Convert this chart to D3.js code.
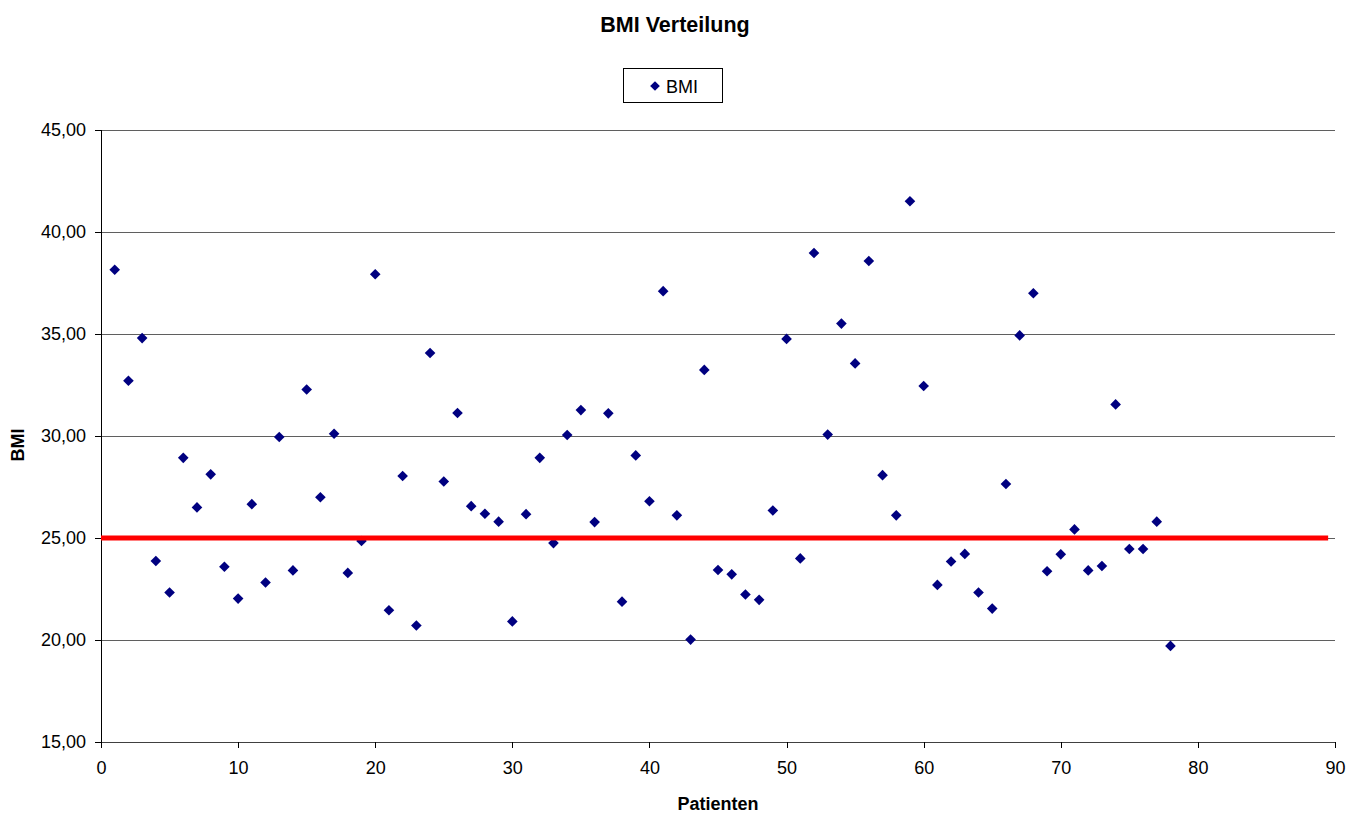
<!DOCTYPE html>
<html>
<head>
<meta charset="utf-8">
<script src="https://cdn.jsdelivr.net/npm/d3@7"></script>
<style>
  html, body { margin: 0; padding: 0; background: #fff; }
  svg { display: block; font-family: "Liberation Sans", Arial, sans-serif; }
</style>
</head>
<body>
<svg id="chart" width="1357" height="814"></svg>
<script>
// Patient numbers and their BMI values
const patients = [1,2,3,4,5,6,7,8,9,10,11,12,13,14,15,16,17,18,19,20,
  21,22,23,24,25,26,27,28,29,30,31,32,33,34,35,36,37,38,39,40,
  41,42,43,44,45,46,47,48,49,50,51,52,53,54,55,56,57,58,59,60,
  61,62,63,64,65,66,67,68,69,70,71,72,73,74,75,76,77,78];
const bmi = [38.15,32.71,34.80,23.87,22.33,28.93,26.50,28.12,23.59,22.03,
  26.66,22.82,29.95,23.41,32.28,27.00,30.11,23.29,24.85,37.93,
  21.46,28.04,20.71,34.07,27.77,31.13,26.56,26.19,25.80,20.91,
  26.17,28.93,24.75,30.05,31.27,25.78,31.11,21.88,29.05,26.80,
  37.10,26.11,20.02,33.24,23.43,23.22,22.23,21.97,26.35,34.76,
  24.00,38.97,30.07,35.51,33.56,38.58,28.08,26.11,41.51,32.45,
  22.70,23.85,24.22,22.33,21.54,27.65,34.93,37.00,23.37,24.20,
  25.42,23.41,23.63,31.55,24.46,24.46,25.80,19.71];

// Reference line at BMI 25 (overweight threshold)
const thresholdX = [0, 89.5];
const thresholdY = [25, 25];

const xTicks = [0,10,20,30,40,50,60,70,80,90];
const yTicks = [15,20,25,30,35,40,45];

const chartTitle = "BMI Verteilung";
const xTitle = "Patienten";
const yTitle = "BMI";
const seriesName = "BMI";

const svg = d3.select("#chart");
const m = { left: 101, right: 1335, top: 130, bottom: 742 };

const x = d3.scaleLinear().domain([0, 90]).range([m.left, m.right]);
const y = d3.scaleLinear().domain([15, 45]).range([m.bottom, m.top]);

const de = d3.formatLocale({ decimal: ",", thousands: ".", grouping: [3], currency: ["", " €"] });
const fmt = de.format(".2f");

// Horizontal gridlines
svg.append("g")
  .attr("transform", `translate(${m.left},0)`)
  .call(d3.axisLeft(y).tickValues(yTicks).tickSize(-(m.right - m.left)).tickFormat(""))
  .call(g => g.select(".domain").remove())
  .call(g => g.selectAll("line").attr("stroke", "#5f5f5f").attr("shape-rendering", "crispEdges"));

// Y axis
const yAxis = svg.append("g")
  .attr("transform", `translate(${m.left},0)`)
  .call(d3.axisLeft(y).tickValues(yTicks).tickSize(6).tickPadding(9).tickFormat(fmt));
yAxis.select(".domain").attr("stroke", "#000").attr("shape-rendering", "crispEdges");
yAxis.selectAll("line").attr("stroke", "#000").attr("shape-rendering", "crispEdges");
yAxis.selectAll("text").attr("font-size", 18).attr("fill", "#000")
  .attr("font-family", "Liberation Sans, Arial, sans-serif");

// X axis
const xAxis = svg.append("g")
  .attr("transform", `translate(0,${m.bottom})`)
  .call(d3.axisBottom(x).tickValues(xTicks).tickSize(6).tickPadding(13).tickFormat(d3.format("d")));
xAxis.select(".domain").attr("stroke", "#404040").attr("shape-rendering", "crispEdges");
xAxis.selectAll("line").attr("stroke", "#000").attr("shape-rendering", "crispEdges");
xAxis.selectAll("text").attr("font-size", 18).attr("fill", "#000")
  .attr("font-family", "Liberation Sans, Arial, sans-serif");

// Data points as diamonds
const diamond = d3.symbol().type(d3.symbolDiamond2).size(72);
svg.append("g")
  .selectAll("path")
  .data(patients.map((p, i) => ({ p, v: bmi[i] })))
  .join("path")
  .attr("d", diamond)
  .attr("transform", d => `translate(${x(d.p)},${y(d.v)})`)
  .attr("fill", "#000080");

// Threshold line drawn over the points
const line = d3.line().x(d => x(d[0])).y(d => y(d[1]));
svg.append("path")
  .datum(thresholdX.map((v, i) => [v, thresholdY[i]]))
  .attr("d", line)
  .attr("stroke", "#ff0000")
  .attr("stroke-width", 5)
  .attr("fill", "none");

// Title
svg.append("text")
  .attr("x", 675).attr("y", 32)
  .attr("text-anchor", "middle")
  .attr("font-size", 21.5).attr("font-weight", "bold")
  .text(chartTitle);

// Legend
const lg = svg.append("g");
lg.append("rect")
  .attr("x", 623.5).attr("y", 68.5).attr("width", 99).attr("height", 34)
  .attr("fill", "#fff").attr("stroke", "#000").attr("stroke-width", 1);
lg.append("path")
  .attr("d", d3.symbol().type(d3.symbolDiamond2).size(60))
  .attr("transform", "translate(655,86)")
  .attr("fill", "#000080");
lg.append("text")
  .attr("x", 666).attr("y", 92.5)
  .attr("font-size", 18)
  .text(seriesName);

// Axis titles
svg.append("text")
  .attr("x", (m.left + m.right) / 2).attr("y", 810)
  .attr("text-anchor", "middle")
  .attr("font-size", 18).attr("font-weight", "bold")
  .text(xTitle);

svg.append("text")
  .attr("transform", "translate(24,445) rotate(-90)")
  .attr("text-anchor", "middle")
  .attr("font-size", 18).attr("font-weight", "bold")
  .text(yTitle);
</script>
</body>
</html>
